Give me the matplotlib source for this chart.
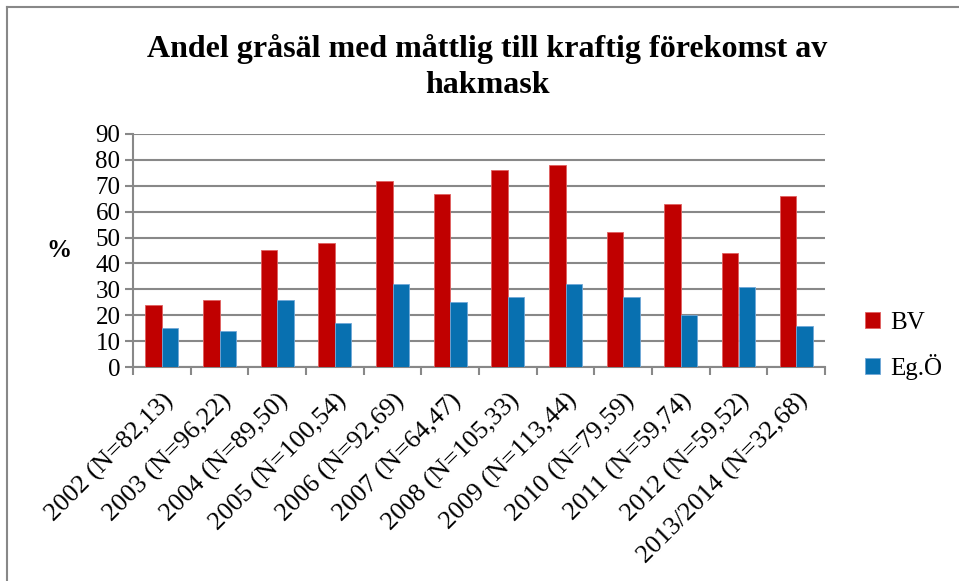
import matplotlib
matplotlib.use('Agg')
import matplotlib.pyplot as plt
from matplotlib.lines import Line2D
import numpy as np

kategorier = ['2002 (N=82,13)', '2003 (N=96,22)', '2004 (N=89,50)', '2005 (N=100,54)',
              '2006 (N=92,69)', '2007 (N=64,47)', '2008 (N=105,33)', '2009 (N=113,44)',
              '2010 (N=79,59)', '2011 (N=59,74)', '2012 (N=59,52)', '2013/2014 (N=32,68)']
bv = [24, 26, 45, 48, 72, 67, 76, 78, 52, 63, 44, 66]
ego = [15, 14, 26, 17, 32, 25, 27, 32, 27, 20, 31, 16]

plt.rcParams['font.family'] = ['Liberation Serif', 'DejaVu Serif']

W, H = 959, 581
fig = plt.figure(figsize=(W / 100, H / 100), dpi=100)
ax = fig.add_axes([133 / W, 1 - 367 / H, (825 - 133) / W, (367 - 134) / H])

x = np.arange(len(kategorier)) + 0.5
bredd = 0.287
ax.bar(x - bredd / 2, bv, bredd, color='#C00000', edgecolor='#E06060', linewidth=0.6,
       label='BV', zorder=3)
ax.bar(x + bredd / 2, ego, bredd, color='#0870B0', edgecolor='#70A8D8', linewidth=0.6,
       label='Eg.Ö', zorder=3)

ax.set_xlim(0, len(kategorier))
ax.set_ylim(0, 90)
ax.set_yticks(range(0, 91, 10))
ax.yaxis.grid(True, color='#888888', linewidth=1.5, zorder=0)
ax.set_axisbelow(True)

# kategorigränser som ticks, etiketterna mitt i varje kategori
ax.set_xticks(range(0, len(kategorier) + 1))
ax.set_xticklabels([])
ax.set_xticks(x, minor=True)
ax.set_xticklabels(kategorier, minor=True, rotation=45, ha='right',
                   rotation_mode='anchor', fontsize=19)
ax.tick_params(axis='x', which='minor', length=0, pad=16)
ax.tick_params(axis='x', which='major', length=6, width=1.5, color='#888888')
ax.tick_params(axis='y', length=6, width=1.5, color='#888888', labelsize=18, pad=3)

for s in ['top', 'right']:
    ax.spines[s].set_visible(False)
for s in ['left', 'bottom']:
    ax.spines[s].set_color('#888888')
    ax.spines[s].set_linewidth(1.5)

ax.set_ylabel('%', rotation=0, fontsize=18, fontweight='bold', labelpad=26, va='center')

fig.text(487 / W, 1 - 67 / H, 'Andel gråsäl med måttlig till kraftig förekomst av\nhakmask',
         ha='center', va='center', fontsize=23, fontweight='bold', linespacing=1.3)

ax.legend(loc='center left', bbox_to_anchor=(865 / W, 1 - 346 / H), bbox_transform=fig.transFigure,
          frameon=False, fontsize=18, handlelength=0.6, handleheight=0.6, labelspacing=0.8,
          handletextpad=0.4, borderpad=0, borderaxespad=0)

fig.add_artist(Line2D([7 / W, 1], [1 - 7 / H, 1 - 7 / H], transform=fig.transFigure,
                      color='#888888', linewidth=1.5))
fig.add_artist(Line2D([7 / W, 7 / W], [0, 1 - 7 / H], transform=fig.transFigure,
                      color='#888888', linewidth=1.5))

fig.savefig('out.png', dpi=100)
